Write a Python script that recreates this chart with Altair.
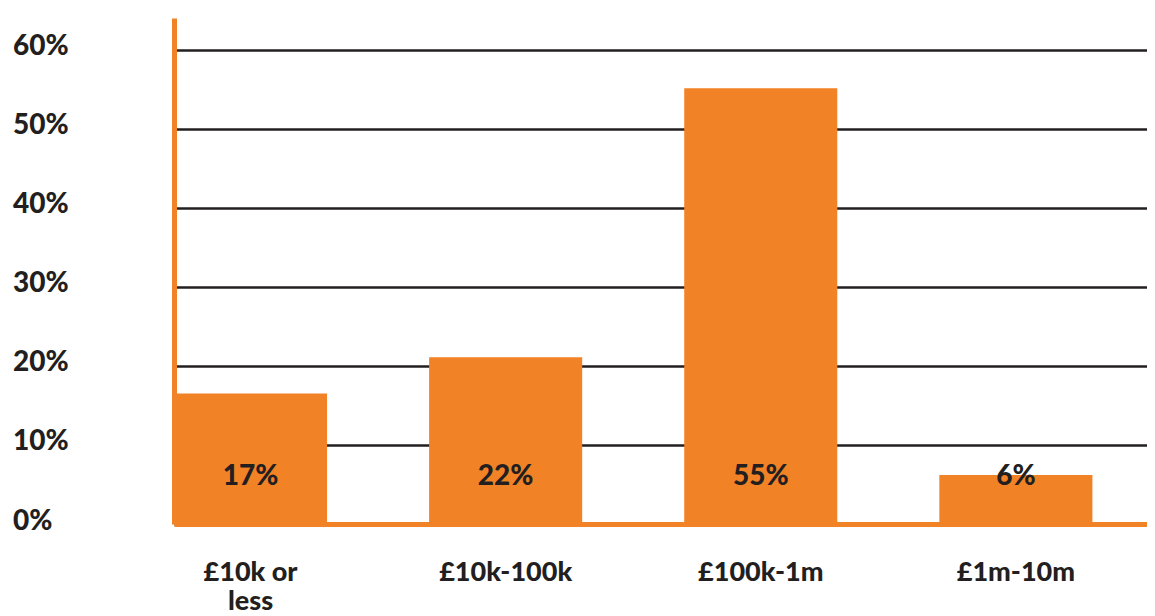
import altair as alt
import pandas as pd

categories = ["£10k or less", "£10k-100k", "£100k-1m", "£1m-10m"]
values = [16.5, 21.1, 55.1, 6.2]
labels = ["17%", "22%", "55%", "6%"]
y_ticks = [0, 10, 20, 30, 40, 50, 60]
label_level = 6

ORANGE = "#F28226"
DARK = "#231F20"
FONT = "Lato"

df = pd.DataFrame({"category": categories, "value": values, "label": labels})

x_enc = alt.X(
    "category:N",
    sort=categories,
    scale=alt.Scale(paddingInner=0.4, paddingOuter=0.107, align=0),
    axis=alt.Axis(
        title=None, labelAngle=0, domainColor=ORANGE, domainWidth=5,
        ticks=False, tickSize=0, grid=False,
        labelFont=FONT, labelFontSize=27, labelFontWeight=900,
        labelColor=DARK, labelPadding=35, labelBaseline="top",
        labelLineHeight=29, labelOverlap=False, labelLimit=400,
        labelExpr="datum.value == '£10k or less' ? ['£10k or', 'less'] : datum.value",
    ),
)

y_scale = alt.Scale(domain=[0, 64], nice=False)

bars = alt.Chart(df).mark_bar(color=ORANGE).encode(
    x=x_enc,
    y=alt.Y(
        "value:Q",
        scale=y_scale,
        axis=alt.Axis(
            values=y_ticks, title=None, labelExpr="datum.value + '%'",
            labelAlign="left", labelPadding=161.5, ticks=False, tickSize=0,
            domainColor=ORANGE, domainWidth=5, gridColor=DARK, gridWidth=2.5,
            labelFont=FONT, labelFontSize=28, labelFontWeight=900,
            labelColor=DARK, labelBaseline="middle", labelOffset=-3,
        ),
    ),
)

text = alt.Chart(df).mark_text(
    font=FONT, fontSize=28, fontWeight=900, color=DARK, baseline="middle"
).encode(
    x=alt.X("category:N", sort=categories),
    y=alt.YDatum(label_level),
    text="label:N",
)

chart = (
    alt.layer(bars, text)
    .properties(
        width=973, height=506,
        padding={"left": 4, "top": 10, "right": 0, "bottom": 0},
        background="white",
    )
    .configure_view(stroke=None)
)

chart.save("out.html", embed_options={"renderer": "svg", "actions": False})
